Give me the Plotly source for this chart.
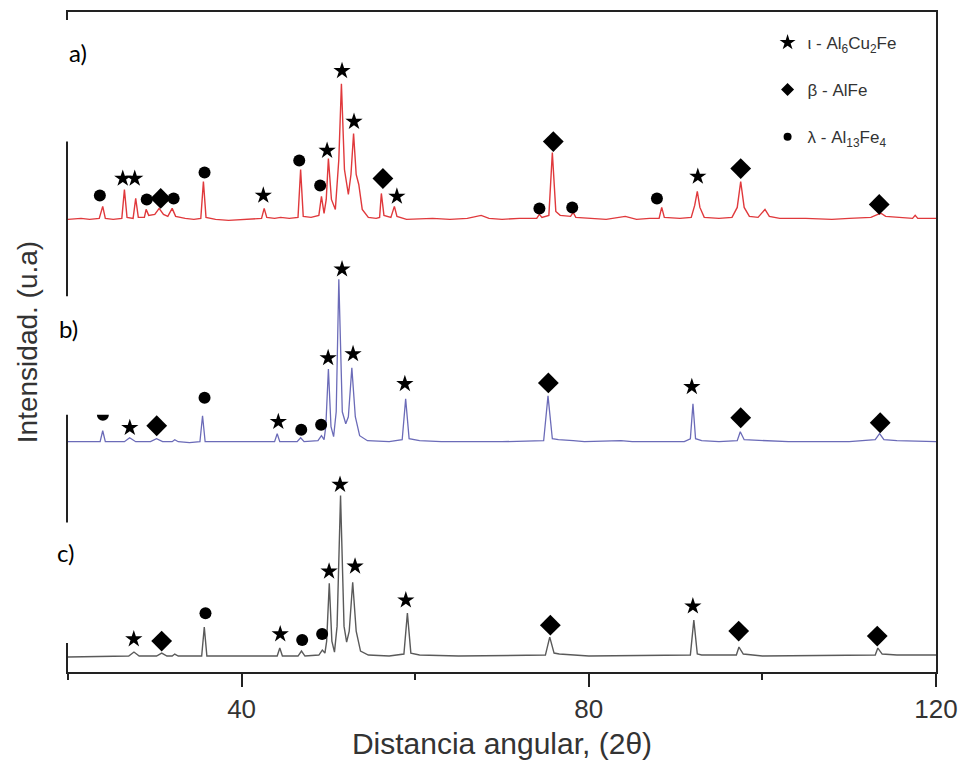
import plotly.graph_objects as go

# ---------------- data (2theta in degrees, intensity in a.u. above each pattern's baseline) -------------
a_2theta = [20.0, 21.5, 22.5, 23.6, 24.0, 24.3, 25.2, 26.2, 26.5, 26.8, 27.5, 27.8, 28.1, 28.8, 29.0, 29.3,
            30.0, 30.5, 31.0, 31.5, 32.0, 32.4, 33.5, 34.5, 35.3, 35.6, 35.9, 37.0, 38.5, 40.0, 41.5, 42.3,
            42.6, 42.9, 43.8, 44.5, 45.5, 46.5, 46.8, 47.1, 48.0, 48.9, 49.2, 49.5, 49.75, 50.0, 50.35, 50.8,
            51.2, 51.5, 51.85, 52.3, 52.6, 52.9, 53.2, 53.5, 53.9, 54.6, 55.5, 55.9, 56.1, 56.4, 57.2, 57.6,
            57.9, 59.0, 62.0, 64.0, 66.0, 67.6, 68.5, 70.0, 72.0, 74.0, 74.3, 74.6, 75.4, 75.8, 76.2, 76.7,
            77.9, 78.2, 78.5, 80.0, 82.0, 84.2, 85.5, 87.0, 88.1, 88.4, 88.7, 90.5, 91.8, 92.2, 92.5, 92.8,
            93.3, 95.0, 96.5, 97.1, 97.5, 97.9, 98.5, 99.5, 100.3, 100.8, 102.0, 105.0, 108.0, 110.0, 112.5,
            113.3, 113.7, 114.2, 115.5, 117.3, 117.6, 117.9, 120.0]
a_int = [0, 1, 0, 1, 13, 1, 0, 1, 30, 2, 1, 21, 2, 2, 10, 4,
         5, 11, 5, 3, 11, 3, 1, 0, 1, 38, 2, 0, -1, 0, 1, 1,
         11, 2, 1, 2, 1, 2, 50, 3, 2, 4, 23, 6, 20, 61, 20, 10,
         60, 136, 50, 25, 45, 86, 45, 35, 10, 2, 1, 2, 26, 4, 2, 13,
         3, 0, 1, 0, 1, 4, 1, 0, 1, 1, 5, 2, 4, 67, 8, 4,
         3, 7, 2, 1, 0, 3, 0, 1, 1, 12, 2, 1, 2, 14, 28, 12,
         2, 1, 2, 12, 38, 12, 3, 2, 10, 3, 1, 1, 0, 1, 2,
         5, 6, 3, 2, 1, 4, 1, 1]

b_2theta = [20.0, 23.7, 24.0, 24.3, 26.5, 27.1, 27.8, 29.5, 30.2, 30.9, 32.0, 32.3, 32.7, 34.0, 35.2, 35.5,
            35.8, 38.0, 40.0, 43.8, 44.1, 44.4, 46.4, 46.8, 47.2, 48.8, 49.2, 49.5, 49.7, 50.0, 50.3, 50.6,
            50.9, 51.2, 51.6, 52.0, 52.3, 52.7, 53.1, 53.6, 54.5, 57.0, 58.5, 58.9, 59.3, 60.5, 63.0, 67.0,
            70.0, 74.8, 75.3, 75.8, 76.5, 78.2, 79.5, 83.7, 85.0, 91.0, 91.7, 92.0, 92.3, 93.0, 95.0, 97.1,
            97.45, 97.9, 100.0, 103.0, 110.0, 113.0, 113.5, 114.0, 115.5, 120.0]
b_int = [0, 0, 11, 0, 0, 4, 0, 0, 3, 0, 0, 2, 0, -1, 0, 26,
         0, 0, 0, 0, 8, 0, 0, 4, 0, 1, 6, 2, 15, 73, 15, 5,
         30, 163, 30, 18, 25, 74, 25, 6, 1, 0, 2, 43, 3, 1, 0, 0,
         0, 1, 46, 3, 2, 1, 0, 1, 0, 0, 3, 38, 3, 1, 0, 1,
         10, 2, 1, 0, 0, 2, 8, 2, 1, 0]

c_2theta = [20.0, 27.0, 27.6, 28.2, 30.2, 30.8, 31.4, 32.0, 32.3, 32.7, 35.4, 35.7, 36.0, 40.0, 44.1, 44.4,
            44.7, 46.5, 46.9, 47.3, 48.9, 49.3, 49.6, 49.8, 50.1, 50.4, 50.7, 51.0, 51.4, 51.8, 52.1, 52.4,
            52.8, 53.2, 53.7, 54.6, 57.0, 58.7, 59.1, 59.5, 60.5, 65.0, 75.0, 75.5, 76.0, 76.6, 78.0, 80.0,
            91.7, 92.1, 92.5, 93.0, 97.0, 97.3, 97.8, 100.0, 113.0, 113.3, 113.8, 115.5, 120.0]
c_int = [-1, 0, 4, 0, 0, 3, 0, 0, 2, 0, 0, 29, 0, 0, 0, 8,
         0, 0, 5, 0, 1, 6, 3, 15, 73, 15, 4, 30, 161, 30, 14, 25,
         74, 25, 5, 1, 0, 2, 43, 3, 1, 0, 1, 19, 3, 2, 1, 0,
         1, 36, 2, 1, 1, 9, 2, 0, 1, 8, 2, 1, 1]

# vertical offset of each pattern (a.u.)
pattern_offsets = {"a": 454, "b": 231, "c": 16}

# phase markers (2theta, absolute intensity a.u.)
tau_2theta = [26.31, 27.69, 42.50, 49.85, 51.57, 52.95, 57.89, 92.56,
              27.12, 44.23, 49.97, 51.57, 52.84, 58.81, 91.87,
              27.58, 44.45, 50.08, 51.34, 53.07, 58.92, 91.99]
tau_int = [495, 495, 478, 523, 603, 552, 477, 497,
           245, 251, 315, 404, 319, 289, 286,
           33, 38, 101, 188, 106, 72, 66]

beta_2theta = [30.68, 56.28, 75.91, 97.50, 113.46,
               30.22, 75.34, 97.50, 113.57,
               30.79, 75.57, 97.27, 113.23]
beta_int = [475, 495, 532, 505, 469,
            247, 290, 255, 250,
            31, 47, 41, 36]

lambda_2theta = [23.67, 29.07, 32.17, 35.73, 46.64, 49.05, 74.31, 78.09, 87.85,
                 24.02, 35.73, 46.87, 49.16,
                 35.84, 46.98, 49.28]
lambda_int = [478, 474, 475, 501, 513, 488, 465, 466, 475,
              258, 275, 243, 248,
              59, 32, 38]

x_tickvals = [40, 80, 120]
x_ticktext = ["40", "80", "120"]
x_minor_ticks = [20, 60, 100]

phase_names = ["\u03b9 - Al<sub>6</sub>Cu<sub>2</sub>Fe", "\u03b2 - AlFe", "\u03bb - Al<sub>13</sub>Fe<sub>4</sub>"]
panel_labels = ["a)", "b)", "c)"]

# ---------------- layout geometry (pixels) -------------
W, H = 968, 770
L, R, T, B = 68, 939, 10, 672
YMAX = B - T


def px(xp):
    return (xp - L) / (R - L)


def py(yp):
    return (B - yp) / (B - T)


fig = go.Figure()

line_styles = {"a": dict(color="#e0393c", width=1.4),
               "b": dict(color="#6b6bb8", width=1.3),
               "c": dict(color="#5a5a5a", width=1.4)}
series = {"a": (a_2theta, a_int), "b": (b_2theta, b_int), "c": (c_2theta, c_int)}
for key in ["a", "b", "c"]:
    xs, ys = series[key]
    off = pattern_offsets[key]
    fig.add_trace(go.Scatter(x=xs, y=[v + off for v in ys], mode="lines",
                             line=line_styles[key], showlegend=False, hoverinfo="skip"))

# markers on peaks
fig.add_trace(go.Scatter(x=tau_2theta, y=tau_int, mode="markers", showlegend=False,
                         marker=dict(symbol="star", size=13, color="black", line=dict(width=0))))
fig.add_trace(go.Scatter(x=beta_2theta, y=beta_int, mode="markers", showlegend=False,
                         marker=dict(symbol="diamond", size=16, color="black", line=dict(width=0))))
fig.add_trace(go.Scatter(x=lambda_2theta, y=lambda_int, mode="markers", showlegend=False,
                         marker=dict(symbol="circle", size=12, color="black", line=dict(width=0))))

# legend entries
for name, sym, sz, grp in zip(phase_names, ["star", "diamond", "circle"], [12, 10, 8], ["g1", "g2", "g3"]):
    fig.add_trace(go.Scatter(x=[None], y=[None], mode="markers", name=name, legendgroup=grp,
                             marker=dict(symbol=sym, size=sz, color="black", line=dict(width=0))))

# white boxes behind the panel labels (they interrupt the left frame line)
boxes = [(52, 18, 98, 140), (48, 295, 112, 414), (44, 522, 100, 643)]
for x0, y0, x1, y1 in boxes:
    fig.add_shape(type="rect", xref="paper", yref="paper", x0=px(x0), x1=px(x1), y0=py(y1), y1=py(y0),
                  fillcolor="white", line=dict(width=0), layer="above")

label_pos = [(78, 51), (68, 327), (65, 552)]
for txt, (lx, ly) in zip(panel_labels, label_pos):
    fig.add_annotation(text=txt, xref="paper", yref="paper", x=px(lx), y=py(ly), showarrow=False,
                       xanchor="center", yanchor="middle", font=dict(family="Lato, Open Sans", size=24, color="black"))

axis_font = dict(family="Liberation Sans, Arial", size=26, color="#333333")
fig.update_layout(
    width=W, height=H,
    margin=dict(l=L, r=W - R, t=T, b=H - B),
    paper_bgcolor="white", plot_bgcolor="white",
    showlegend=True,
    legend=dict(x=px(770), y=py(23), xanchor="left", yanchor="top", bgcolor="rgba(0,0,0,0)",
                font=dict(family="Liberation Sans, Arial", size=17, color="#333333"),
                tracegroupgap=22, itemsizing="trace"),
    xaxis=dict(range=[20, 120], tickvals=x_tickvals, ticktext=x_ticktext, ticks="outside", ticklen=13,
               tickwidth=2, tickcolor="#222", showline=True, linewidth=2, linecolor="#222", mirror=True,
               showgrid=False, zeroline=False, tickfont=axis_font,
               minor=dict(tickvals=x_minor_ticks, ticks="outside", ticklen=6, tickwidth=2, tickcolor="#222"),
               title=dict(text="Distancia angular, (2\u03b8)", font=dict(family="Liberation Sans, Arial", size=30,
                                                                       color="#333333"), standoff=10)),
    yaxis=dict(range=[0, YMAX], showticklabels=False, ticks="", showline=True, linewidth=2, linecolor="#222",
               mirror=True, showgrid=False, zeroline=False,
               title=dict(text="Intensidad. (u.a)", font=dict(family="Liberation Sans, Arial", size=28,
                                                               color="#333333"), standoff=20)),
)

fig.write_html("out.html")
